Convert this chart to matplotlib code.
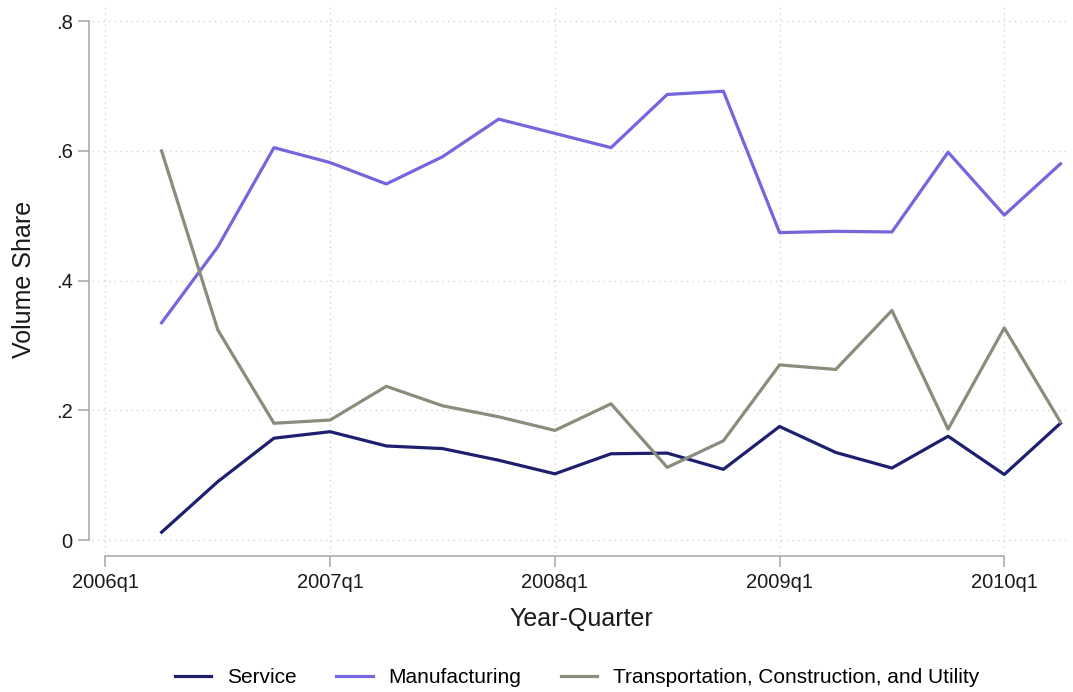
import matplotlib
matplotlib.use('agg')
import matplotlib.pyplot as plt
import numpy as np

plt.rcParams['font.family'] = ['Liberation Sans', 'DejaVu Sans']

quarters = ['2006q2', '2006q3', '2006q4', '2007q1', '2007q2', '2007q3', '2007q4', '2008q1',
            '2008q2', '2008q3', '2008q4', '2009q1', '2009q2', '2009q3', '2009q4', '2010q1', '2010q2']
service = [0.012, 0.090, 0.157, 0.167, 0.145, 0.141, 0.123, 0.102,
           0.133, 0.134, 0.109, 0.175, 0.135, 0.111, 0.160, 0.101, 0.180]
manufacturing = [0.335, 0.452, 0.605, 0.582, 0.549, 0.591, 0.649, 0.627,
                 0.605, 0.687, 0.692, 0.474, 0.476, 0.475, 0.598, 0.501, 0.580]
transport = [0.600, 0.324, 0.180, 0.185, 0.237, 0.207, 0.190, 0.169,
             0.210, 0.112, 0.153, 0.270, 0.263, 0.354, 0.171, 0.327, 0.182]

tick_labels = ['2006q1', '2007q1', '2008q1', '2009q1', '2010q1']
ytick_vals = [0, 0.2, 0.4, 0.6, 0.8]
ytick_labels = ['0', '.2', '.4', '.6', '.8']

def qindex(s):
    # quarters counted from 2006q1
    return (int(s[:4]) - 2006) * 4 + int(s[5]) - 1

x = [qindex(q) for q in quarters]
xt = [qindex(t) for t in tick_labels]

fig = plt.figure(figsize=(10.73, 6.92), dpi=100)
ax = fig.add_axes([0.0857, 0.2009, 0.9115, 0.7919])

ax.plot(x, service, color='#1f1f70', lw=2.3, label='Service')
ax.plot(x, manufacturing, color='#7466dc', lw=2.3, label='Manufacturing')
ax.plot(x, transport, color='#8a8c7c', lw=2.3, label='Transportation, Construction, and Utility')

ax.set_xlim(-0.24, 17.17)
ax.set_ylim(-0.020, 0.825)
ax.set_xticks(xt)
ax.set_xticklabels(tick_labels)
ax.set_yticks(ytick_vals)
ax.set_yticklabels(ytick_labels)

ax.grid(True, color='#d4d4d4', linestyle=(0, (1, 3)), linewidth=1.0)
ax.set_axisbelow(True)

for side in ['top', 'right']:
    ax.spines[side].set_visible(False)
ax.spines['left'].set_position(('outward', 2))
ax.spines['bottom'].set_position(('outward', 2.3))
ax.spines['left'].set_bounds(0, 0.8)
ax.spines['bottom'].set_bounds(xt[0], xt[-1])
for side in ['left', 'bottom']:
    ax.spines[side].set_color('#a6a6a6')
    ax.spines[side].set_linewidth(1.1)

ax.tick_params(axis='both', length=8, width=1.1, color='#a6a6a6',
               labelsize=14.5, labelcolor='#1a1a1a', pad=4)

ax.set_xlabel('Year-Quarter', fontsize=18, color='#1a1a1a', labelpad=11)
ax.set_ylabel('Volume Share', fontsize=18, color='#1a1a1a', labelpad=14)

ax.legend(loc='center', bbox_to_anchor=(0.496, -0.228), ncol=3, frameon=False,
          fontsize=15, handlelength=1.75, handletextpad=0.75, columnspacing=1.9)

fig.savefig('out.png', dpi=100)
